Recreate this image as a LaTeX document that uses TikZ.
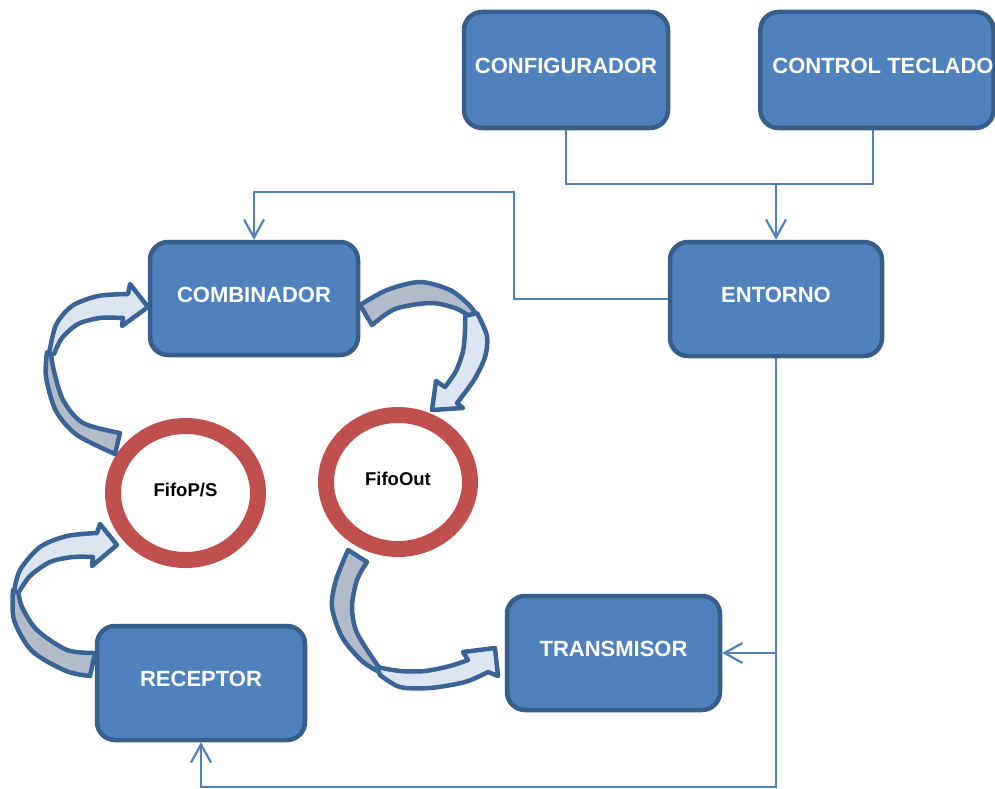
\documentclass[tikz,border=0pt]{standalone}
\usepackage{fontspec}
\setmainfont{Liberation Sans}
\usetikzlibrary{arrows.meta,shapes.geometric}
\definecolor{boxfill}{HTML}{4F81BD}
\definecolor{boxline}{HTML}{385D8A}
\definecolor{wire}{HTML}{4F81BD}
\definecolor{ringred}{HTML}{C0504D}
\definecolor{bandline}{HTML}{3A6496}
\definecolor{bandgray}{HTML}{B2BCC8}
\definecolor{bandlight}{HTML}{DCE6F2}
\begin{document}
\begin{tikzpicture}[x=1pt,y=-1pt,
  block/.style={draw=boxline, fill=boxfill, line width=4.5pt, rounded corners=18pt,
    text=white, font=\fontsize{22}{26}\selectfont\bfseries,
    text height=16pt, text depth=9pt, inner sep=0pt},
  ring/.style={ellipse, draw=ringred, line width=16pt,
    font=\fontsize{18.5}{22}\selectfont\bfseries,
    text height=13.3pt, text depth=6pt, inner sep=0pt},
  wireline/.style={draw=wire, line width=2.2pt},
  wiretip/.style={-{Straight Barb[length=18pt,width=20pt]}},
  bandback/.style={fill=bandgray, draw=bandline, line width=4.5pt, line join=round},
  bandfront/.style={fill=bandlight, draw=bandline, line width=4.5pt, line join=round}]
\useasboundingbox (0,0) rectangle (995,789);

% blocks
\node[block, minimum width=204pt, minimum height=116pt] (conf) at (566,70) {CONFIGURADOR};
\node[block, minimum width=228pt, minimum height=116pt] (ctrl) at (877,70) {\hspace*{12pt}CONTROL TECLADO};
\node[block, minimum width=208pt, minimum height=113pt] (comb) at (254,298.5) {COMBINADOR};
\node[block, minimum width=212pt, minimum height=114pt] (ent) at (776,299) {ENTORNO};
\node[block, minimum width=213pt, minimum height=114pt] (trans) at (613.5,653) {TRANSMISOR};
\node[block, minimum width=208pt, minimum height=114pt] (rec) at (201,683) {RECEPTOR};

% FIFOs
\node[ring, minimum width=145pt, minimum height=134pt] (fps) at (185.5,493) {FifoP/S};
\node[ring, minimum width=144pt, minimum height=134pt] (fout) at (398,482) {FifoOut};

% control wiring
\coordinate (jt) at (776,184);
\coordinate (jl) at (514,192);
\coordinate (jb) at (776,787);
\draw[wireline] (conf.south) -- (conf.south |- jt) -| ([xshift=-4pt]ctrl.south);
\draw[wireline, wiretip] (jt) -- (ent.north);
\draw[wireline, wiretip] (ent.west) -| (jl) -| (comb.north);
\draw[wireline, wiretip] (ent.south) -- (jb) -| (rec.south);
\draw[wireline, wiretip] (ent.south |- trans.east) -- (trans.east);

% data flow: FifoP/S -> COMBINADOR
\path[bandback] plot[smooth] coordinates {(120,433) (83,423) (63,400) (53,367) (51,352)}
  -- plot[smooth] coordinates {(47,352) (46,377) (56,411) (77,435) (115,454)} -- cycle;
\path[bandfront] plot[smooth] coordinates {(54,354) (62,338) (78,324) (100,318) (123,318)}
  -- (122,326) -- (148,307) -- (130,284)
  -- plot[smooth] coordinates {(128,294) (98,296) (72,306) (56,325) (49,354)} -- cycle;

% COMBINADOR -> FifoOut
\path[bandback] plot[smooth] coordinates {(360,305) (387,290) (420,282) (450,290) (468,304) (476,314)}
  -- plot[smooth] coordinates {(469,316) (455,308) (430,303) (395,309) (372,325)} -- cycle;
\path[bandfront] plot[smooth] coordinates {(477,313) (487,336) (485,357) (474,380) (457,403)}
  -- (463,408) -- (432,410) -- (436,381)
  -- plot[smooth] coordinates {(445,387) (456,371) (463,351) (465,331) (465,316)} -- cycle;

% RECEPTOR -> FifoP/S
\path[bandback] plot[smooth] coordinates {(95,653) (67,650) (37,630) (22,607) (18,590)}
  -- plot[smooth] coordinates {(13,590) (14,620) (32,651) (66,671) (90,676)} -- cycle;
\path[bandfront] plot[smooth] coordinates {(14,592) (20,570) (40,547) (67,536) (97,533)}
  -- (100,524) -- (117,545) -- (92,566)
  -- plot[smooth] coordinates {(93,557) (73,557) (50,562) (30,576) (19,592)} -- cycle;

% FifoOut -> TRANSMISOR
\path[bandback] plot[smooth] coordinates {(367,562) (357,580) (352,607) (357,633) (378,666)}
  -- plot[smooth] coordinates {(381,673) (362,661) (342,637) (332,607) (336,580) (348,550)} -- cycle;
\path[bandfront] plot[smooth] coordinates {(377,667) (400,671) (425,671) (450,666) (468,660)}
  -- (463,652) -- (495,648) -- (498,676)
  -- plot[smooth] coordinates {(488,672) (465,682) (430,688) (400,687) (380,675)} -- cycle;
\end{tikzpicture}
\end{document}
